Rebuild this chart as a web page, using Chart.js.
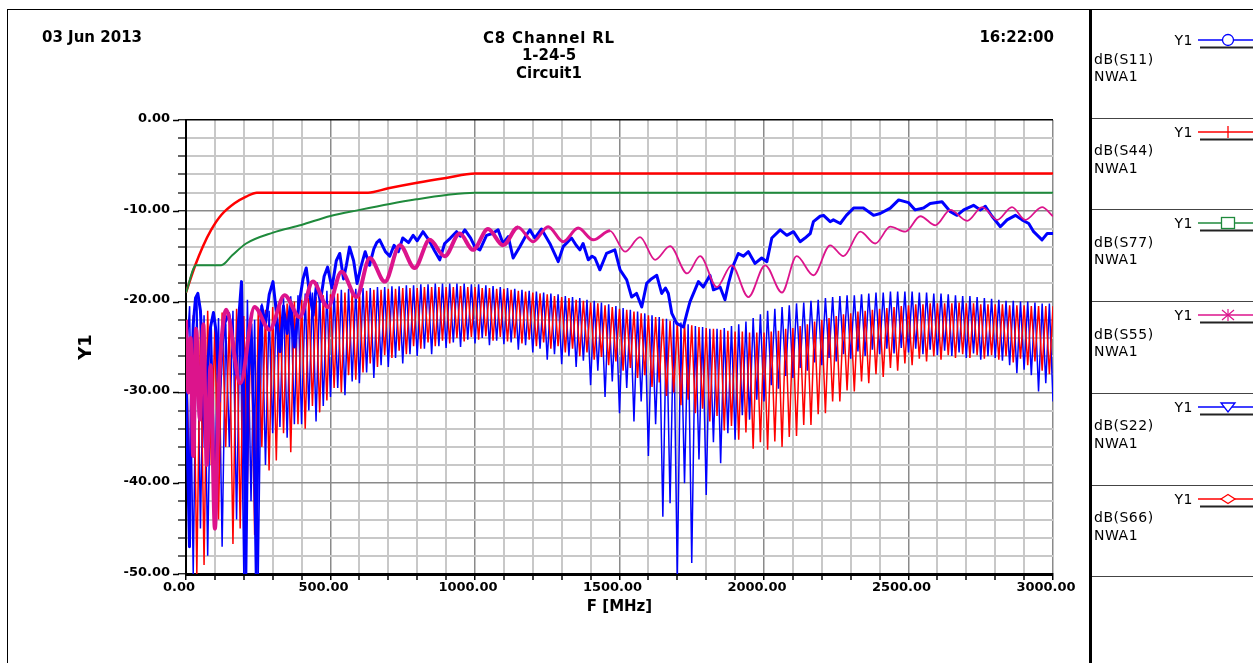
<!DOCTYPE html>
<html>
<head>
<meta charset="utf-8">
<script src="https://cdn.jsdelivr.net/npm/chart.js@4/dist/chart.umd.min.js"></script>
<style>
  html, body { margin: 0; padding: 0; background: #fff; }
  #wrap { position: relative; width: 1253px; height: 663px; overflow: hidden; background: #fff; }
  #plot { position: absolute; left: 0; top: 0; }
  .hdr { position: absolute; font: bold 15px 'DejaVu Sans', sans-serif; line-height: 18px; color: #000; white-space: nowrap; }
  .lg { position: absolute; font: 14px 'DejaVu Sans', sans-serif; letter-spacing: 0.5px; line-height: 18px; color: #000; white-space: nowrap; }
  .rule { position: absolute; background: #000; }
  .mk { position: absolute; }
</style>
</head>
<body>
<div id="wrap">
  <canvas id="plot" width="1253" height="663"></canvas>
  <div class="rule" style="left:7px;top:9px;width:1246px;height:1px;"></div>
  <div class="rule" style="left:7px;top:9px;width:1px;height:654px;"></div>
  <div class="rule" style="left:1089px;top:9px;width:3px;height:654px;"></div>
  <div class="hdr" style="left:42px;top:28px;">03 Jun 2013</div>
  <div class="hdr" style="left:449px;width:200px;text-align:center;top:29px;letter-spacing:0.8px;">C8 Channel RL</div>
  <div class="hdr" style="left:449px;width:200px;text-align:center;top:46px;">1-24-5</div>
  <div class="hdr" style="left:449px;width:200px;text-align:center;top:64px;">Circuit1</div>
  <div class="hdr" style="right:199px;top:28px;">16:22:00</div>
  <div id="legend"></div>
</div>
<script>
// Sweep of the oscillating traces: one extreme every 12.5 MHz
const OSC_STEP_MHZ = 12.5;

// dB(S66): alternating maxima / minima, starting at 0 MHz
const s66Db = [
  -23.5,-41.0,-21.5,-50.0,-22.2,-49.0,-21.0,-38.0,
  -22.5,-44.0,-21.2,-36.0,-21.8,-46.7,-20.8,-45.0,
  -21.6,-40.0,-22.4,-45.7,-21.0,-36.0,-20.9,-38.6,
  -20.6,-37.5,-20.3,-34.5,-20.2,-36.6,-20.0,-33.5,
  -19.8,-34.0,-19.6,-31.5,-19.5,-32.2,-19.3,-30.9,
  -19.2,-29.5,-19.1,-30.0,-19.0,-28.1,-18.9,-28.6,
  -18.8,-27.8,-18.8,-26.8,-18.7,-27.2,-18.7,-25.9,
  -18.6,-26.2,-18.6,-25.4,-18.5,-25.8,-18.5,-24.9,
  -18.5,-25.2,-18.4,-24.5,-18.4,-24.9,-18.4,-24.3,
  -18.4,-24.6,-18.4,-24.0,-18.3,-24.4,-18.4,-23.9,
  -18.4,-24.2,-18.5,-23.8,-18.5,-24.3,-18.6,-23.9,
  -18.6,-24.4,-18.7,-24.0,-18.8,-24.6,-18.9,-24.2,
  -19.0,-24.9,-19.1,-24.5,-19.2,-25.2,-19.4,-24.9,
  -19.5,-25.6,-19.6,-25.2,-19.8,-26.0,-19.9,-25.6,
  -20.1,-26.4,-20.2,-26.1,-20.4,-27.0,-20.6,-26.6,
  -20.8,-27.6,-20.9,-27.3,-21.1,-28.4,-21.3,-28.1,
  -21.5,-29.4,-21.7,-28.9,-21.9,-30.4,-22.1,-30.0,
  -22.3,-31.4,-22.4,-30.8,-22.6,-32.3,-22.8,-31.8,
  -22.9,-33.2,-23.0,-32.6,-23.1,-34.2,-23.2,-33.7,
  -23.3,-35.2,-23.3,-34.4,-23.4,-36.2,-23.4,-35.5,
  -23.4,-36.3,-23.3,-35.4,-23.2,-36.0,-23.0,-34.9,
  -22.9,-34.8,-22.7,-33.6,-22.5,-33.6,-22.2,-32.4,
  -22.0,-32.3,-21.8,-31.0,-21.6,-31.0,-21.4,-29.8,
  -21.3,-29.9,-21.1,-28.8,-21.0,-29.0,-20.9,-28.0,
  -20.8,-28.3,-20.7,-27.3,-20.6,-27.6,-20.5,-26.8,
  -20.4,-27.0,-20.3,-26.3,-20.3,-26.6,-20.2,-26.0,
  -20.2,-26.4,-20.2,-25.9,-20.2,-26.2,-20.1,-25.8,
  -20.2,-26.2,-20.2,-25.9,-20.3,-26.3,-20.3,-25.9,
  -20.3,-26.4,-20.3,-26.0,-20.4,-26.7,-20.4,-26.3,
  -20.4,-27.0,-20.5,-26.6,-20.5,-27.6,-20.5,-28.0,
  -20.5
];

// dB(S22): alternating minima / maxima, starting at 0 MHz
const s22Db = [
  -27.0,-20.5,-50.0,-19.2,-45.0,-21.5,-48.0,-22.8,
  -40.0,-21.8,-47.0,-22.5,-36.0,-21.0,-44.0,-20.5,
  -50.0,-19.8,-42.0,-22.0,-50.0,-20.2,-38.0,-21.0,
  -34.5,-20.0,-33.8,-19.6,-35.0,-19.4,-33.5,-19.3,
  -33.5,-19.1,-32.0,-19.0,-33.2,-18.9,-31.5,-18.8,
  -30.5,-18.7,-29.5,-18.7,-30.3,-18.6,-28.8,-18.6,
  -29.0,-18.5,-27.8,-18.5,-28.4,-18.4,-27.0,-18.4,
  -27.2,-18.3,-26.2,-18.3,-26.8,-18.2,-25.8,-18.2,
  -26.0,-18.1,-25.2,-18.1,-25.8,-18.0,-24.9,-18.0,
  -25.1,-18.0,-24.5,-18.0,-25.0,-18.0,-24.2,-18.1,
  -24.6,-18.1,-24.0,-18.2,-24.8,-18.3,-24.3,-18.4,
  -24.7,-18.5,-24.5,-18.6,-25.3,-18.7,-24.8,-18.8,
  -25.6,-18.9,-25.2,-19.0,-26.4,-19.1,-25.8,-19.2,
  -26.9,-19.4,-26.0,-19.5,-27.2,-19.6,-26.5,-19.8,
  -29.2,-19.9,-27.6,-20.1,-30.5,-20.3,-28.8,-20.5,
  -32.3,-20.7,-29.5,-20.9,-33.2,-21.1,-31.0,-21.3,
  -37.0,-21.5,-33.5,-21.7,-43.7,-21.9,-42.2,-22.1,
  -50.5,-22.3,-40.0,-22.5,-48.8,-22.7,-37.4,-22.8,
  -41.3,-23.0,-35.5,-23.0,-37.8,-22.9,-34.5,-22.7,
  -35.2,-22.5,-32.5,-22.2,-33.0,-21.8,-30.8,-21.4,
  -31.0,-21.0,-29.2,-20.8,-29.6,-20.6,-28.2,-20.4,
  -28.4,-20.2,-27.3,-20.1,-27.6,-19.9,-26.7,-19.8,
  -27.0,-19.6,-26.2,-19.5,-26.6,-19.4,-25.8,-19.3,
  -26.3,-19.3,-25.5,-19.2,-26.0,-19.1,-25.3,-19.0,
  -25.8,-19.0,-25.2,-18.9,-25.7,-18.9,-25.1,-18.9,
  -25.6,-18.9,-25.2,-19.0,-25.8,-19.0,-25.3,-19.1,
  -25.9,-19.1,-25.4,-19.2,-26.0,-19.3,-25.6,-19.4,
  -26.2,-19.4,-25.7,-19.5,-26.4,-19.6,-26.0,-19.7,
  -26.2,-19.8,-26.5,-19.9,-27.0,-19.9,-27.9,-20.0,
  -27.5,-20.0,-28.1,-20.1,-29.9,-20.2,-29.0,-20.2,
  -31.0
];

// dB(S11): [MHz, dB]
const s11 = [
  [0,-26],[6,-38],[12,-47],[18,-31],[25,-22.5],[33,-19.6],[41,-19.1],[50,-21],[58,-27],[66,-36],
  [75,-27],[85,-22.8],[95,-21.2],[105,-23.5],[115,-31],[125,-25],[135,-22.3],[148,-21.3],[160,-23.5],[172,-28],
  [182,-22],[192,-17.8],[200,-31],[207,-50],[215,-29],[225,-22.5],[235,-33],[243,-50],[252,-27],[262,-20.5],
  [275,-22.5],[288,-19.2],[301,-17.8],[312,-21],[325,-25.5],[337,-20.5],[350,-23.5],[362,-20],[375,-25],[390,-20.5],
  [405,-17.5],[416,-16.3],[428,-19.2],[440,-21.5],[452,-18],[465,-20],[478,-17.2],[490,-16.2],[505,-18.5],[520,-15.5],
  [532,-14.7],[545,-17.5],[555,-16],[566,-14],[580,-15.5],[592,-18],[605,-16.2],[620,-14.5],[635,-16],[650,-14.2],
  [660,-13.5],[670,-13.2],[690,-14.5],[705,-15],[720,-13.8],[735,-14.5],[750,-13],[770,-13.5],[786,-12.7],[800,-13.3],
  [820,-12.3],[840,-13.2],[860,-14.4],[878,-15.4],[895,-13.6],[915,-13],[936,-12.3],[950,-12.8],[965,-12.1],[985,-13],
  [1000,-14],[1017,-14.3],[1040,-12.7],[1060,-12.5],[1080,-12.1],[1097,-13.6],[1115,-12.85],[1132,-15.2],[1155,-13.95],[1175,-12.8],
  [1190,-12.1],[1207,-13],[1230,-12],[1259,-13.6],[1288,-15.6],[1305,-13.95],[1334,-13],[1350,-13.8],[1363,-14.3],[1374,-13.6],
  [1392,-15.4],[1405,-15],[1415,-15.2],[1432,-16.5],[1455,-14.7],[1484,-14.3],[1502,-16.5],[1525,-17.6],[1542,-19.5],[1559,-19.1],
  [1577,-20.6],[1594,-18],[1610,-17.5],[1629,-17.1],[1646,-19.1],[1659,-18.5],[1669,-19.1],[1681,-21.3],[1698,-22.4],[1721,-22.8],
  [1733,-21.3],[1744,-20],[1760,-18.8],[1773,-17.8],[1790,-18.4],[1813,-17.1],[1825,-18.7],[1848,-18.4],[1865,-19.8],[1877,-18],
  [1894,-16],[1911,-14.7],[1929,-15],[1946,-14.5],[1969,-15.8],[1992,-15.2],[2010,-15.6],[2027,-13],[2056,-12.1],[2079,-12.7],
  [2102,-12.3],[2125,-13.4],[2142,-13],[2160,-12.5],[2171,-11.2],[2194,-10.6],[2206,-10.5],[2229,-11.2],[2240,-11],[2264,-11.4],
  [2285,-10.5],[2310,-9.7],[2344,-9.7],[2379,-10.5],[2402,-10.3],[2437,-9.7],[2466,-8.8],[2500,-9.1],[2523,-9.9],[2552,-9.7],
  [2575,-9.2],[2616,-9],[2645,-10.1],[2668,-10.5],[2691,-9.9],[2725,-9.4],[2749,-9.9],[2766,-9.5],[2789,-10.6],[2818,-11.75],
  [2841,-11],[2870,-10.5],[2893,-11],[2916,-11.4],[2933,-12.3],[2962,-13.2],[2980,-12.5],[3000,-12.5]
];

// dB(S55): [MHz, dB] turning points
const s55 = [
  [0,-22],[8,-30],[16,-24],[25,-37],[35,-23],[48,-33],[60,-22.5],[72,-38],[85,-27],[100,-45],
  [113,-30],[125,-23.5],[139,-20.9],[188,-29],[237,-20.6],[289,-23.1],[341,-19.3],[393,-21.7],[439,-17.8],[491,-20.6],
  [538,-16.7],[590,-19.5],[636,-15.2],[688,-17.8],[740,-13.8],[791,-16.3],[843,-13.2],[895,-15],[947,-12.5],[993,-14.3],
  [1045,-12],[1097,-13.8],[1149,-11.8],[1201,-13.4],[1253,-11.75],[1305,-13.4],[1357,-11.9],[1409,-13.2],[1467,-12.2],[1519,-14.5],
  [1571,-12.9],[1623,-15.4],[1675,-13.9],[1734,-16.9],[1779,-15],[1837,-18.4],[1888,-16],[1946,-19.5],[2004,-16],[2062,-19],
  [2113,-15],[2171,-17.1],[2229,-13.8],[2275,-15],[2333,-12.3],[2385,-13.6],[2437,-11.75],[2489,-12.3],[2541,-10.6],[2593,-11.6],
  [2645,-9.9],[2703,-11.1],[2755,-9.6],[2807,-11],[2858,-9.6],[2904,-11],[2962,-9.6],[3000,-10.6]
];

// dB(S44) limit: [MHz, dB]
const s44 = [
  [0,-19],[32,-16],[58,-13.95],[87,-12.1],[122,-10.46],[168,-9.17],[208,-8.44],[245,-8],
  [630,-8],[700,-7.52],[800,-6.91],[900,-6.38],[1000,-5.9],[3000,-5.9]
];

// dB(S77) limit: [MHz, dB]
const s77 = [
  [0,-19],[35,-16],[122,-16],[160,-14.9],[208,-13.6],[301,-12.4],[399,-11.56],[500,-10.57],
  [601,-9.9],[705,-9.25],[797,-8.74],[901,-8.26],[1000,-8],[3000,-8]
];

// Axis ranges and labelled steps
const xRange = [0, 3000];
const yRange = [-50, 0];
const xStep = 100, xLabelEvery = 500;
const yStep = 2, yLabelEvery = 10;

// Legend entries
const legendNames = ['dB(S11)', 'dB(S44)', 'dB(S77)', 'dB(S55)', 'dB(S22)', 'dB(S66)'];
const legendSource = 'NWA1';
const legendAxis = 'Y1';

const BLUE = '#0000ff', RED = '#ff0000', GREEN = '#1f8a3c', MAGENTA = '#dc148c';
const MINOR = '#c8c8c8', MAJOR = '#8a8a8a';
const FONT = "'DejaVu Sans', sans-serif";

const legendColors = [BLUE, RED, GREEN, MAGENTA, BLUE, RED];
const legendMarkers = ['circle', 'plus', 'square', 'star', 'triangle', 'diamond'];

const fromPairs = arr => arr.map(([x, y]) => ({ x, y }));
const fromSweep = (arr, step) => arr.map((y, i) => ({ x: i * step, y }));

// Longer tick marks at the labelled dB values
const majorTickMarks = {
  id: 'majorTickMarks',
  afterDraw(chart) {
    const ys = chart.scales.y, ctx = chart.ctx;
    ctx.save();
    ctx.strokeStyle = '#000';
    ctx.lineWidth = 1.5;
    ys.ticks.forEach(t => {
      if (t.value % yLabelEvery === 0) {
        const py = Math.round(ys.getPixelForValue(t.value)) + 0.5;
        ctx.beginPath();
        ctx.moveTo(ys.right - 13, py);
        ctx.lineTo(ys.right - 7, py);
        ctx.stroke();
      }
    });
    ctx.restore();
  }
};

new Chart(document.getElementById('plot'), {
  type: 'line',
  data: {
    datasets: [
      { label: 'dB(S55)', data: fromPairs(s55), borderColor: MAGENTA, borderWidth: 1.8,
        cubicInterpolationMode: 'monotone', borderJoinStyle: 'round',
        segment: { borderWidth: c => c.p0.parsed.x < 1100 ? 4 : (c.p0.parsed.x < 1450 ? 3 : 1.8) } },
      { label: 'dB(S77)', data: fromPairs(s77), borderColor: GREEN, borderWidth: 2, cubicInterpolationMode: 'monotone' },
      { label: 'dB(S44)', data: fromPairs(s44), borderColor: RED, borderWidth: 2.5, cubicInterpolationMode: 'monotone' },
      { label: 'dB(S11)', data: fromPairs(s11), borderColor: BLUE, borderWidth: 3, borderJoinStyle: 'round' },
      { label: 'dB(S66)', data: fromSweep(s66Db, OSC_STEP_MHZ), borderColor: RED, borderWidth: 1.5, borderJoinStyle: 'bevel' },
      { label: 'dB(S22)', data: fromSweep(s22Db, OSC_STEP_MHZ), borderColor: BLUE, borderWidth: 1.5, borderJoinStyle: 'bevel' }
    ]
  },
  options: {
    responsive: false,
    animation: false,
    events: [],
    layout: { padding: { left: 0, top: 120, right: 200, bottom: 0 } },
    plugins: { legend: { display: false }, tooltip: { enabled: false }, title: { display: false } },
    elements: { point: { radius: 0 }, line: { tension: 0, fill: false } },
    scales: {
      x: {
        type: 'linear', min: xRange[0], max: xRange[1],
        afterFit: s => { s.height = 89; },
        ticks: {
          stepSize: xStep, autoSkip: false, maxRotation: 0, minRotation: 0, padding: 0, labelOffset: -7,
          color: '#000', font: { family: FONT, size: 13, weight: 'bold' },
          callback: v => (v % xLabelEvery === 0 ? v.toFixed(2) : '')
        },
        grid: {
          color: c => (c.tick.value % xLabelEvery === 0 ? MAJOR : MINOR),
          lineWidth: c => (c.tick.value % xLabelEvery === 0 ? 1.5 : 2),
          tickColor: '#000', tickWidth: 1.5, tickLength: 6
        },
        border: { color: '#000', width: 3 },
        title: { display: true, text: 'F [MHz]', color: '#000',
                 font: { family: FONT, size: 15, weight: 'bold' }, padding: { top: 0, bottom: 47 } }
      },
      y: {
        type: 'linear', min: yRange[0], max: yRange[1],
        afterFit: s => { s.width = 186; },
        ticks: {
          stepSize: yStep, autoSkip: false, padding: 8, labelOffset: -1.5,
          color: '#000', font: { family: FONT, size: 13, weight: 'bold' },
          callback: v => (v % yLabelEvery === 0 ? v.toFixed(2) : '')
        },
        grid: {
          color: c => (c.tick.value === 0 ? '#000' : (c.tick.value % yLabelEvery === 0 ? MAJOR : MINOR)),
          lineWidth: c => (c.tick.value % yLabelEvery === 0 ? 1.5 : 2),
          tickColor: '#000', tickWidth: 1.2, tickLength: 8
        },
        border: { color: '#000', width: 2 },
        title: { display: true, text: 'Y1', color: '#000',
                 font: { family: FONT, size: 18, weight: 'bold' }, padding: { top: 76, bottom: 0 } }
      }
    }
  },
  plugins: [majorTickMarks]
});

// Legend panel on the right
(function buildLegend() {
  const host = document.getElementById('legend');
  const ROW0 = 40, ROW_H = 91.7;
  const markerSvg = (kind, color) => {
    const s = `stroke="${color}" stroke-width="1.3" fill="#fff"`;
    switch (kind) {
      case 'circle': return `<circle cx="32" cy="8" r="5.5" ${s}/>`;
      case 'plus': return `<line x1="32" y1="2" x2="32" y2="14" stroke="${color}" stroke-width="1.3"/>`;
      case 'square': return `<rect x="25.5" y="2.5" width="13" height="11" ${s}/>`;
      case 'star': return `<line x1="32" y1="2" x2="32" y2="14" stroke="${color}" stroke-width="1.2"/>` +
                          `<line x1="26" y1="3" x2="38" y2="13" stroke="${color}" stroke-width="1.2"/>` +
                          `<line x1="38" y1="3" x2="26" y2="13" stroke="${color}" stroke-width="1.2"/>`;
      case 'triangle': return `<polygon points="25,4 39,4 32,13" ${s}/>`;
      case 'diamond': return `<polygon points="25,8 32,3.5 39,8 32,12.5" ${s}/>`;
    }
    return '';
  };
  let html = '';
  legendNames.forEach((name, k) => {
    const cy = ROW0 + ROW_H * k;
    const color = legendColors[k];
    html += `<div class="lg" style="right:60px;top:${(cy - 9).toFixed(1)}px;">${legendAxis}</div>`;
    html += `<div class="lg" style="left:1094px;top:${(cy + 18.5 - 9).toFixed(1)}px;">${name}</div>`;
    html += `<div class="lg" style="left:1094px;top:${(cy + 36 - 9).toFixed(1)}px;">${legendSource}</div>`;
    html += `<svg class="mk" width="57" height="20" style="left:1196px;top:${(cy - 8).toFixed(1)}px;">` +
            `<line x1="2" y1="8" x2="57" y2="8" stroke="${color}" stroke-width="1.3"/>` +
            `<line x1="4" y1="15.5" x2="57" y2="15.5" stroke="#222" stroke-width="2"/>` +
            markerSvg(legendMarkers[k], color) + `</svg>`;
    html += `<div class="rule" style="left:1092px;width:161px;height:1px;background:#444;top:${Math.round(117.7 + ROW_H * k)}px;"></div>`;
  });
  host.innerHTML = html;
})();
</script>
</body>
</html>
